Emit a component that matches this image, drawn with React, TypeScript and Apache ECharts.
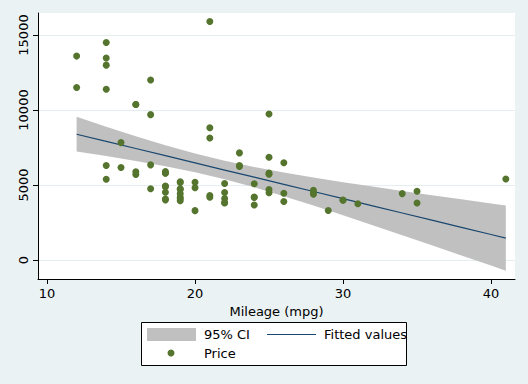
import React, { useEffect, useRef } from "react";
import * as echarts from "echarts";

const mpg = [22,17,22,20,15,18,26,20,16,19,14,14,21,29,16,22,22,24,19,30,18,16,17,28,21,12,12,14,22,14,15,18,14,20,21,19,19,18,19,24,16,28,34,25,26,18,18,18,19,19,19,24,17,23,25,23,35,24,21,21,25,28,30,14,26,35,18,31,25,23,41,25,25,17];
const price = [4099,4749,3799,4816,7827,5788,4453,5189,10372,4082,11385,14500,15906,3299,5705,4504,5104,3667,3955,3984,4010,5886,6342,4389,4187,11497,13594,13466,3829,5379,6165,4516,6303,3291,8814,5172,4733,4890,4181,4195,10371,4647,4425,4482,6486,4060,5798,4934,5222,4723,4424,4172,9690,6295,9735,6229,4589,5079,8129,4296,5799,4499,3995,12990,3895,3798,5899,3748,5719,7140,5397,4697,6850,11995];

const fitX = [12,14,16,18,20,22,24,26,28,30,32,34,36,38,40,41];
const fitY = [8386,7909,7431,6953,6475,5997,5520,5042,4564,4086,3608,3131,2653,2175,1697,1458];
const ciUpper = [9542,8891,8258,7654,7098,6609,6192,5827,5498,5189,4893,4606,4323,4044,3767,3629];
const ciLower = [7230,6927,6604,6252,5852,5385,4848,4257,3630,2983,2323,1656,983,306,-373,-713];

const xTicks = [10, 20, 30, 40];
const yTicks = [0, 5000, 10000, 15000];

const BG = "#eaf2f3";
const GREEN = "#55752f";
const NAVY = "#1a476f";
const GRAY = "#c0c0c0";
const FONT = "DejaVu Sans";

export default function App() {
  const ref = useRef<HTMLDivElement>(null);
  useEffect(() => {
    document.body.style.margin = "0";
    document.body.style.background = BG;
    const chart = echarts.init(ref.current!, null, { renderer: "svg" });
    chart.setOption({
      animation: false,
      backgroundColor: BG,
      textStyle: { fontFamily: FONT },
      grid: {
        left: 38, top: 13, right: 13, bottom: 105,
        show: true, backgroundColor: "#ffffff", borderWidth: 0,
      },
      xAxis: {
        type: "value",
        min: 9.39,
        max: 41.62,
        name: "Mileage (mpg)",
        nameLocation: "middle",
        nameGap: 20,
        nameTextStyle: { fontSize: 13, color: "#000", fontFamily: FONT },
        axisLine: { show: true, onZero: false, lineStyle: { color: "#000", width: 1 } },
        axisTick: { show: true, length: 5, customValues: xTicks, lineStyle: { color: "#000" } },
        axisLabel: { customValues: xTicks, fontSize: 13, color: "#000", margin: 8, fontFamily: FONT, formatter: (v: number) => String(v) },
        splitLine: { show: false },
      },
      yAxis: {
        type: "value",
        min: -1267,
        max: 16467,
        axisLine: { show: true, onZero: false, lineStyle: { color: "#000", width: 1 } },
        axisTick: { show: true, length: 5, customValues: yTicks, lineStyle: { color: "#000" } },
        axisLabel: { customValues: yTicks, rotate: 90, fontSize: 13, color: "#000", margin: 8, fontFamily: FONT, formatter: (v: number) => String(v) },
        splitLine: { show: true, lineStyle: { color: "#e4eef0", width: 1 } },
      },
      series: [
        {
          type: "custom",
          name: "95% CI",
          data: fitX.map((x, i) => [x, ciLower[i], ciUpper[i]]),
          encode: { x: 0, y: [1, 2] },
          silent: true,
          z: 1,
          renderItem: (params: any, api: any) => {
            if (params.dataIndex !== 0) return null;
            const pts: number[][] = [];
            for (let i = 0; i < fitX.length; i++) pts.push(api.coord([fitX[i], ciUpper[i]]));
            for (let i = fitX.length - 1; i >= 0; i--) pts.push(api.coord([fitX[i], ciLower[i]]));
            return { type: "polygon", shape: { points: pts }, style: { fill: GRAY, stroke: null } };
          },
        },
        {
          type: "line",
          name: "Fitted values",
          data: fitX.map((x, i) => [x, fitY[i]]),
          showSymbol: false,
          lineStyle: { color: NAVY, width: 1.2 },
          z: 2,
        },
        {
          type: "scatter",
          name: "Price",
          data: mpg.map((m, i) => [m, price[i]]),
          symbol: "circle",
          symbolSize: 7,
          itemStyle: { color: GREEN, opacity: 1 },
          z: 3,
        },
      ],
      graphic: [
        {
          type: "rect",
          shape: { x: 141.5, y: 322.5, width: 265, height: 43 },
          style: { fill: "#ffffff", stroke: "#000", lineWidth: 1 },
        },
        {
          type: "rect",
          shape: { x: 147, y: 328, width: 49, height: 13 },
          style: { fill: GRAY },
        },
        {
          type: "text",
          x: 204, y: 334,
          style: { text: "95% CI", font: `13px '${FONT}'`, fill: "#000", verticalAlign: "middle", align: "left" },
        },
        {
          type: "line",
          shape: { x1: 267, y1: 334.5, x2: 316, y2: 334.5 },
          style: { stroke: NAVY, lineWidth: 1.2 },
        },
        {
          type: "text",
          x: 324, y: 334,
          style: { text: "Fitted values", font: `13px '${FONT}'`, fill: "#000", verticalAlign: "middle", align: "left" },
        },
        {
          type: "circle",
          shape: { cx: 171, cy: 353, r: 3.5 },
          style: { fill: GREEN },
        },
        {
          type: "text",
          x: 204, y: 353,
          style: { text: "Price", font: `13px '${FONT}'`, fill: "#000", verticalAlign: "middle", align: "left" },
        },
      ],
    });
    return () => chart.dispose();
  }, []);
  return <div ref={ref} style={{ width: 528, height: 384 }} />;
}
